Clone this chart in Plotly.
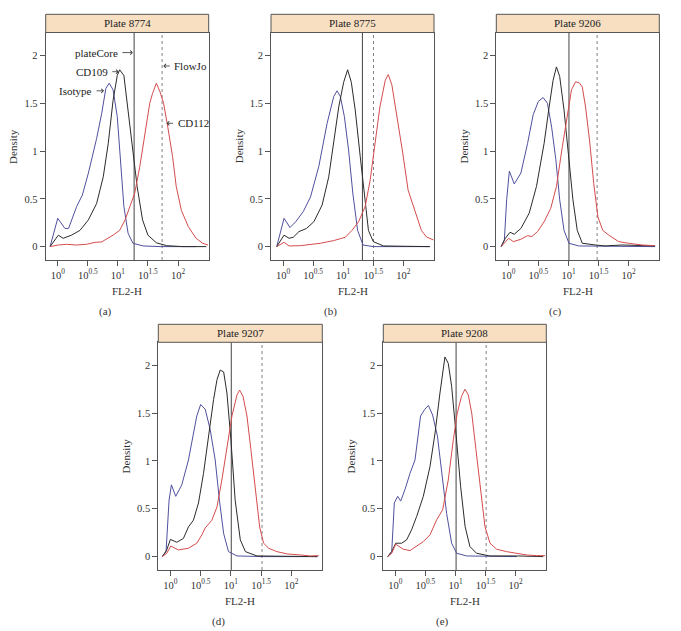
import plotly.graph_objects as go

# ---------------- data (x values are log10(FL2-H)) ----------------
plates = ["Plate 8774", "Plate 8775", "Plate 9206", "Plate 9207", "Plate 9208"]
panel_labels = ["(a)", "(b)", "(c)", "(d)", "(e)"]

# plateCore (solid) and FlowJo (dotted) gates, log10(FL2-H)
platecore_log = [1.27, 1.32, 1.008, 1.006, 1.01]
flowjo_log = [1.735, 1.504, 1.476, 1.514, 1.51]

# Plate 8774
p8774_iso_x = [-0.127, 0.0, 0.12, 0.18, 0.315, 0.41, 0.51, 0.646, 0.73, 0.80, 0.856, 0.92, 0.99, 1.044, 1.10, 1.17, 1.25, 1.42, 1.7, 2.3]
p8774_iso_y = [0.0, 0.296, 0.19, 0.19, 0.42, 0.54, 0.77, 1.13, 1.39, 1.655, 1.71, 1.64, 1.36, 0.91, 0.42, 0.14, 0.035, 0.007, 0.0, 0.0]
p8774_cd109_x = [-0.127, 0.01, 0.09, 0.23, 0.37, 0.51, 0.646, 0.757, 0.84, 0.92, 0.99, 1.03, 1.10, 1.17, 1.24, 1.32, 1.41, 1.50, 1.64, 1.81, 2.08, 2.47]
p8774_cd109_y = [0.0, 0.12, 0.087, 0.12, 0.17, 0.28, 0.45, 0.73, 1.08, 1.53, 1.79, 1.85, 1.79, 1.43, 1.01, 0.63, 0.28, 0.12, 0.04, 0.01, 0.0, 0.0]
p8774_cd112_x = [-0.127, 0.01, 0.15, 0.31, 0.48, 0.62, 0.73, 0.81, 0.92, 1.03, 1.12, 1.20, 1.28, 1.365, 1.45, 1.53, 1.575, 1.64, 1.70, 1.76, 1.83, 1.91, 1.97, 2.055, 2.17, 2.30, 2.41, 2.50]
p8774_cd112_y = [0.0, 0.017, 0.024, 0.017, 0.024, 0.045, 0.049, 0.077, 0.12, 0.17, 0.28, 0.42, 0.56, 0.84, 1.18, 1.50, 1.60, 1.71, 1.62, 1.50, 1.25, 0.94, 0.63, 0.38, 0.21, 0.087, 0.035, 0.017]

# Plate 8775
p8775_iso_x = [-0.105, 0.017, 0.116, 0.21, 0.336, 0.457, 0.595, 0.733, 0.843, 0.898, 0.953, 1.02, 1.09, 1.16, 1.24, 1.33, 1.50, 2.44]
p8775_iso_y = [0.0, 0.296, 0.2, 0.26, 0.366, 0.52, 0.84, 1.29, 1.57, 1.63, 1.57, 1.36, 1.01, 0.56, 0.17, 0.017, 0.0, 0.0]
p8775_cd109_x = [-0.105, 0.017, 0.10, 0.17, 0.264, 0.39, 0.512, 0.65, 0.76, 0.843, 0.926, 1.008, 1.074, 1.135, 1.20, 1.284, 1.366, 1.42, 1.50, 1.67, 2.44]
p8775_cd109_y = [0.0, 0.12, 0.087, 0.098, 0.157, 0.19, 0.26, 0.435, 0.73, 1.115, 1.46, 1.72, 1.85, 1.72, 1.43, 0.94, 0.45, 0.17, 0.052, 0.007, 0.0]
p8775_cd112_x = [-0.105, 0.017, 0.10, 0.29, 0.62, 0.84, 1.036, 1.146, 1.256, 1.366, 1.45, 1.53, 1.61, 1.70, 1.75, 1.81, 1.89, 1.99, 2.08, 2.19, 2.30, 2.386, 2.50]
p8775_cd112_y = [0.0, 0.045, 0.007, 0.01, 0.035, 0.063, 0.098, 0.17, 0.26, 0.42, 0.70, 1.08, 1.46, 1.74, 1.80, 1.69, 1.39, 0.98, 0.59, 0.38, 0.17, 0.10, 0.07]

# Plate 9206
p9206_iso_x = [-0.12, -0.066, -0.028, 0.017, 0.099, 0.209, 0.32, 0.413, 0.50, 0.578, 0.65, 0.72, 0.79, 0.854, 0.926, 1.008, 1.17, 1.79, 2.44]
p9206_iso_y = [0.0, 0.07, 0.49, 0.79, 0.655, 0.77, 1.08, 1.38, 1.52, 1.56, 1.50, 1.25, 0.91, 0.49, 0.17, 0.035, 0.007, 0.0, 0.0]
p9206_cd109_x = [-0.12, -0.05, 0.028, 0.099, 0.209, 0.347, 0.468, 0.595, 0.678, 0.744, 0.80, 0.854, 0.926, 0.997, 1.074, 1.146, 1.23, 1.45, 1.61, 1.89, 2.44]
p9206_cd109_y = [0.0, 0.087, 0.15, 0.13, 0.19, 0.35, 0.63, 1.08, 1.46, 1.74, 1.88, 1.78, 1.43, 0.98, 0.49, 0.17, 0.035, 0.017, 0.007, 0.017, 0.007]
p9206_cd112_x = [-0.12, 0.006, 0.083, 0.209, 0.32, 0.39, 0.485, 0.595, 0.705, 0.80, 0.898, 0.98, 1.05, 1.118, 1.185, 1.23, 1.284, 1.35, 1.42, 1.49, 1.57, 1.67, 1.835, 2.0, 2.22, 2.44]
p9206_cd112_y = [0.0, 0.087, 0.052, 0.077, 0.115, 0.105, 0.157, 0.26, 0.40, 0.63, 1.045, 1.39, 1.64, 1.725, 1.71, 1.67, 1.46, 1.115, 0.66, 0.31, 0.17, 0.12, 0.052, 0.035, 0.017, 0.01]

# Plate 9207
p9207_iso_x = [-0.133, -0.072, -0.022, 0.017, 0.088, 0.188, 0.298, 0.38, 0.436, 0.50, 0.575, 0.657, 0.74, 0.81, 0.88, 0.96, 1.10, 1.54, 2.43]
p9207_iso_y = [0.0, 0.052, 0.59, 0.75, 0.63, 0.75, 1.01, 1.29, 1.47, 1.59, 1.54, 1.33, 1.01, 0.59, 0.24, 0.052, 0.007, 0.0, 0.0]
p9207_cd109_x = [-0.133, -0.06, 0.0, 0.105, 0.215, 0.298, 0.38, 0.464, 0.547, 0.63, 0.713, 0.77, 0.823, 0.88, 0.934, 1.0, 1.07, 1.155, 1.24, 1.43, 1.87, 2.43]
p9207_cd109_y = [0.0, 0.07, 0.18, 0.15, 0.19, 0.31, 0.38, 0.56, 0.87, 1.26, 1.64, 1.85, 1.95, 1.93, 1.71, 1.22, 0.59, 0.175, 0.052, 0.007, 0.007, 0.0]
p9207_cd112_x = [-0.133, -0.06, 0.006, 0.133, 0.298, 0.436, 0.52, 0.575, 0.685, 0.77, 0.85, 0.934, 1.017, 1.10, 1.144, 1.2, 1.265, 1.33, 1.40, 1.475, 1.54, 1.624, 1.76, 1.93, 2.15, 2.31, 2.45]
p9207_cd112_y = [0.0, 0.035, 0.11, 0.07, 0.087, 0.14, 0.227, 0.30, 0.38, 0.52, 0.80, 1.15, 1.47, 1.69, 1.74, 1.675, 1.47, 1.12, 0.70, 0.31, 0.14, 0.087, 0.052, 0.028, 0.017, 0.007, 0.01]

# Plate 9208
p9208_iso_x = [-0.127, -0.06, -0.017, 0.039, 0.089, 0.16, 0.244, 0.327, 0.42, 0.49, 0.55, 0.62, 0.70, 0.77, 0.853, 0.936, 1.02, 1.186, 2.02]
p9208_iso_y = [0.0, 0.052, 0.56, 0.63, 0.58, 0.70, 0.87, 1.01, 1.47, 1.54, 1.58, 1.48, 1.26, 0.87, 0.45, 0.14, 0.035, 0.007, 0.0]
p9208_cd109_x = [-0.127, -0.06, 0.006, 0.105, 0.188, 0.27, 0.355, 0.465, 0.576, 0.66, 0.742, 0.80, 0.825, 0.88, 0.936, 1.008, 1.086, 1.16, 1.24, 1.35, 1.57, 2.02, 2.46]
p9208_cd109_y = [0.0, 0.052, 0.14, 0.14, 0.175, 0.28, 0.42, 0.63, 0.94, 1.29, 1.71, 1.99, 2.087, 2.02, 1.78, 1.29, 0.73, 0.314, 0.105, 0.035, 0.007, 0.007, 0.0]
p9208_cd112_x = [-0.127, -0.06, 0.006, 0.133, 0.244, 0.355, 0.465, 0.576, 0.687, 0.787, 0.88, 0.964, 1.03, 1.10, 1.158, 1.213, 1.27, 1.34, 1.42, 1.49, 1.574, 1.684, 1.85, 2.02, 2.18, 2.35, 2.49]
p9208_cd112_y = [0.0, 0.035, 0.13, 0.077, 0.063, 0.112, 0.157, 0.227, 0.384, 0.49, 0.80, 1.22, 1.50, 1.675, 1.75, 1.69, 1.50, 1.12, 0.66, 0.314, 0.14, 0.077, 0.052, 0.035, 0.017, 0.01, 0.01]

series = [
    [(p8774_iso_x, p8774_iso_y), (p8774_cd109_x, p8774_cd109_y), (p8774_cd112_x, p8774_cd112_y)],
    [(p8775_iso_x, p8775_iso_y), (p8775_cd109_x, p8775_cd109_y), (p8775_cd112_x, p8775_cd112_y)],
    [(p9206_iso_x, p9206_iso_y), (p9206_cd109_x, p9206_cd109_y), (p9206_cd112_x, p9206_cd112_y)],
    [(p9207_iso_x, p9207_iso_y), (p9207_cd109_x, p9207_cd109_y), (p9207_cd112_x, p9207_cd112_y)],
    [(p9208_iso_x, p9208_iso_y), (p9208_cd109_x, p9208_cd109_y), (p9208_cd112_x, p9208_cd112_y)],
]
series_names = ["Isotype", "CD109", "CD112"]

x_tick_log = [0, 0.5, 1, 1.5, 2]
x_tick_text = ["10<sup>0</sup>", "10<sup>0.5</sup>", "10<sup>1</sup>", "10<sup>1.5</sup>", "10<sup>2</sup>"]
y_tick_vals = [0, 0.5, 1, 1.5, 2]
y_tick_text = ["0", "0.5", "1", "1.5", "2"]
X_RANGE_LOG = [-0.2, 2.51]
Y_RANGE = [-0.14, 2.24]

# ---------------- styling / layout ----------------
W, H = 681, 631
FONT = "Liberation Serif"
colors = ["#50509e", "#2b2b2b", "#d44c4c"]
AX = "#555555"
STRIP = "#f8dfc2"

# panel boxes in pixels: left, right, strip top, plot top, plot bottom
panels = [
    (45.7, 208.7, 14.3, 32.5, 260.0),
    (271.0, 434.0, 14.3, 32.5, 260.0),
    (496.3, 659.3, 14.3, 32.5, 260.0),
    (158.3, 322.3, 324.3, 342.3, 570.0),
    (383.3, 546.3, 324.3, 342.3, 570.0),
]

def px(x):
    return x / W

def py(y):
    return 1 - y / H

fig = go.Figure()
layout = dict(
    width=W, height=H, margin=dict(l=0, r=0, t=0, b=0, autoexpand=False),
    paper_bgcolor="white", plot_bgcolor="white", showlegend=False,
    font=dict(family=FONT, size=11, color="#333333"),
)
shapes = []
annotations = []

def note(x, y, text, **kw):
    d = dict(xref="paper", yref="paper", x=px(x), y=py(y), text=text, showarrow=False,
             xanchor="center", yanchor="middle", font=dict(size=11, family=FONT, color="#333"))
    d.update(kw)
    annotations.append(d)

for i, (L, R, ST, PT, PB) in enumerate(panels):
    n = "" if i == 0 else str(i + 1)
    xa, ya = "x" + n, "y" + n
    # gate lines (drawn first, under the density curves)
    for g, col, dash in ((platecore_log[i], "#444444", "solid"), (flowjo_log[i], "#808080", "dot")):
        fig.add_trace(go.Scatter(
            x=[10 ** g, 10 ** g], y=Y_RANGE, mode="lines", line=dict(color=col, width=1, dash=dash),
            xaxis=xa, yaxis=ya, hoverinfo="skip", cliponaxis=True))
    for (xs, ys), c, nm in zip(series[i], colors, series_names):
        fig.add_trace(go.Scatter(
            x=[10 ** v for v in xs], y=ys, mode="lines", name=nm,
            line=dict(color=c, width=1), xaxis=xa, yaxis=ya, hoverinfo="skip"))
    layout["xaxis" + n] = dict(
        domain=[px(L), px(R)], anchor=ya, type="log", range=X_RANGE_LOG,
        tickvals=[10 ** v for v in x_tick_log], ticktext=x_tick_text,
        ticks="outside", ticklen=5, tickcolor=AX, tickwidth=1,
        showline=True, linecolor=AX, linewidth=1, mirror=True,
        showgrid=False, zeroline=False, tickfont=dict(size=10.5, family=FONT, color="#333"),
    )
    layout["yaxis" + n] = dict(
        domain=[py(PB), py(PT)], anchor=xa, range=Y_RANGE,
        tickvals=y_tick_vals, ticktext=y_tick_text,
        ticks="outside", ticklen=5, tickcolor=AX, tickwidth=1,
        showline=True, linecolor=AX, linewidth=1, mirror=True,
        showgrid=False, zeroline=False, tickfont=dict(size=10.5, family=FONT, color="#333"),
    )
    # strip
    shapes.append(dict(type="rect", xref="paper", yref="paper",
                       x0=px(L), x1=px(R), y0=py(PT), y1=py(ST),
                       fillcolor=STRIP, line=dict(color=AX, width=1), layer="above"))
    note((L + R) / 2, (ST + PT) / 2, plates[i], font=dict(size=11, family=FONT, color="#222"))
    # axis titles and panel letter
    note(L - 32, (PT + PB) / 2, "Density", textangle=-90)
    note((L + R) / 2, PB + 31, "FL2-H")
    note((L + R) / 2 - 22, PB + 51.5, panel_labels[i])

# callouts in panel (a): (label, head x log, head y, direction, arrow length px)
callouts = [
    ("plateCore", 1.25, 2.03, -1, 12),
    ("CD109", 1.015, 1.83, -1, 8),
    ("Isotype", 0.77, 1.63, -1, 9),
    ("FlowJo", 1.755, 1.89, 1, 8),
    ("CD112", 1.81, 1.29, 1, 8),
]
for lab, hx, hy, d, ln in callouts:
    annotations.append(dict(xref="x", yref="y", x=hx, y=hy, text="", showarrow=True,
                            axref="pixel", ayref="pixel", ax=d * ln, ay=0,
                            arrowhead=4, arrowsize=1.0, arrowwidth=0.8, arrowcolor="#333",
                            standoff=0, startstandoff=0))
    annotations.append(dict(xref="x", yref="y", x=hx, y=hy, text=lab, showarrow=False,
                            xanchor="right" if d < 0 else "left", yanchor="middle",
                            xshift=d * (ln + 1),
                            font=dict(size=11, family=FONT, color="#222")))

layout["shapes"] = shapes
layout["annotations"] = annotations
fig.update_layout(**layout)
fig.write_html("out.html", config={"displayModeBar": False},
               post_script="document.body.style.margin='0';document.body.style.overflow='hidden';")
